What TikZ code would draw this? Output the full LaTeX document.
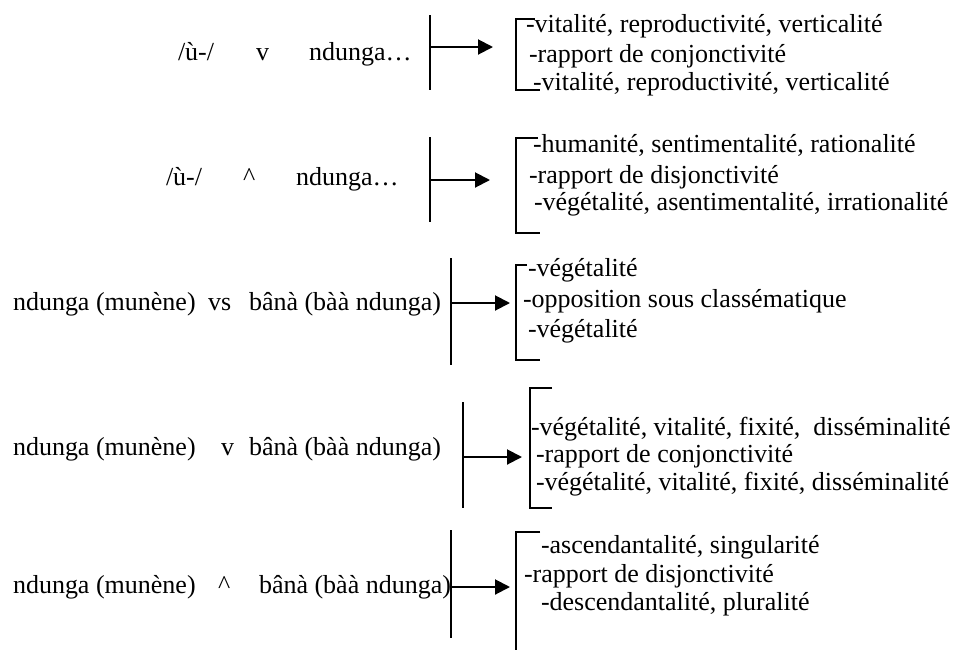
\documentclass[tikz,border=0pt]{standalone}
\usepackage{fontspec}
\setmainfont{Liberation Serif}
\usetikzlibrary{arrows.meta}

\begin{document}
\begin{tikzpicture}[x=0.5pt,y=-0.5pt,line width=1pt,
      every node/.append style={inner sep=0pt,anchor=base west,font=\fontsize{13}{15.6}\selectfont}]
    \tikzstyle{fleche} = [-{Triangle[length=7.5pt,width=7.5pt]}]
    \tikzstyle{crochet} = [line width=0.7pt]
    \useasboundingbox (0,0) rectangle (965,649);

    % /ù-/ v ndunga
    \node (u1) at (177,60) {/ù-/};
    \node (op1) at (255,60) {v};
    \node (nd1) at (308,60) {ndunga…};
    \coordinate (barre1a) at (430,15);
    \coordinate (barre1b) at (430,90);
    \coordinate (pointe1) at (493,47);
    \draw (barre1a) -- (barre1b);
    \draw[fleche] (barre1a |- pointe1) -- (pointe1);
    \draw[crochet] (535,19) -| (516,90) -- (540,90);
    \node (s1a) at (525,32) {-vitalité, reproductivité, verticalité};
    \node (s1b) at (528,62) {-rapport de conjonctivité};
    \node (s1c) at (532,90) {-vitalité, reproductivité, verticalité};

    % /ù-/ ^ ndunga
    \node (u2) at (165,185) {/ù-/};
    \node (op2) at (242,185) {\^{}};
    \node (nd2) at (295,185) {ndunga…};
    \coordinate (barre2a) at (430,137);
    \coordinate (barre2b) at (430,222);
    \coordinate (pointe2) at (490,180);
    \draw (barre2a) -- (barre2b);
    \draw[fleche] (barre2a |- pointe2) -- (pointe2);
    \draw[crochet] (538,138) -| (516,233) -- (540,233);
    \node (s2a) at (532,152) {-humanité, sentimentalité, rationalité};
    \node (s2b) at (528,183) {-rapport de disjonctivité};
    \node (s2c) at (533,210) {-végétalité, asentimentalité, irrationalité};

    % ndunga vs bana
    \node (nd3) at (12,310) {ndunga (munène)};
    \node (op3) at (207,310) {vs};
    \node (ba3) at (248,310) {bânà (bàà ndunga)};
    \coordinate (barre3a) at (451,258);
    \coordinate (barre3b) at (451,365);
    \coordinate (pointe3) at (510,303);
    \draw (barre3a) -- (barre3b);
    \draw[fleche] (barre3a |- pointe3) -- (pointe3);
    \draw[crochet] (527,265) -| (516,360) -- (540,360);
    \node (s3a) at (527,276) {-végétalité};
    \node (s3b) at (522,307) {-opposition sous classématique};
    \node (s3c) at (527,337) {-végétalité};

    % ndunga v bana
    \node (nd4) at (12,455) {ndunga (munène)};
    \node (op4) at (220,455) {v};
    \node (ba4) at (248,455) {bânà (bàà ndunga)};
    \coordinate (barre4a) at (463,402);
    \coordinate (barre4b) at (463,508);
    \coordinate (pointe4) at (522,457);
    \draw (barre4a) -- (barre4b);
    \draw[fleche] (barre4a |- pointe4) -- (pointe4);
    \draw[crochet] (552,388) -| (530,508) -- (552,508);
    \node (s4a) at (530,435) {-végétalité, vitalité, fixité,\ \ disséminalité};
    \node (s4b) at (535,462) {-rapport de conjonctivité};
    \node (s4c) at (535,490) {-végétalité, vitalité, fixité, disséminalité};

    % ndunga ^ bana
    \node (nd5) at (12,593) {ndunga (munène)};
    \node (op5) at (217,593) {\^{}};
    \node (ba5) at (258,593) {bânà (bàà ndunga)};
    \coordinate (barre5a) at (451,530);
    \coordinate (barre5b) at (451,638);
    \coordinate (pointe5) at (510,587);
    \draw (barre5a) -- (barre5b);
    \draw[fleche] (barre5a |- pointe5) -- (pointe5);
    \draw[crochet] (540,532) -| (516,652);
    \node (s5a) at (540,553) {-ascendantalité, singularité};
    \node (s5b) at (523,582) {-rapport de disjonctivité};
    \node (s5c) at (540,610) {-descendantalité, pluralité};
\end{tikzpicture}
\end{document}
